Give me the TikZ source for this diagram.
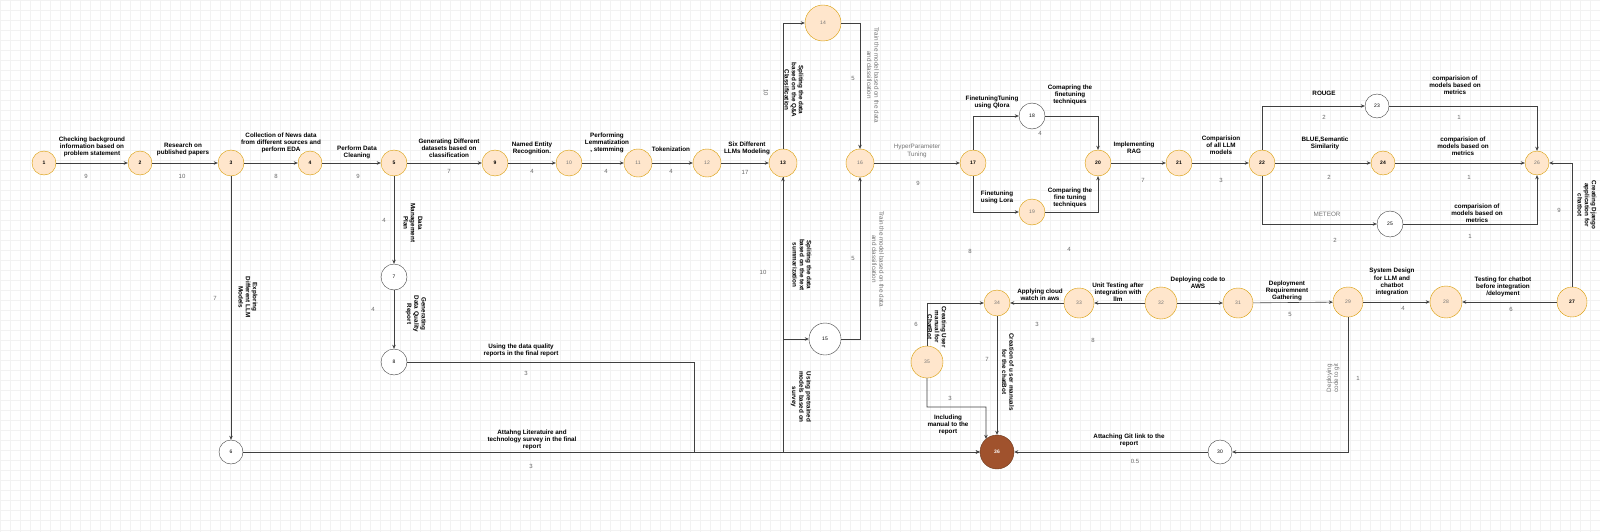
\documentclass[tikz,border=0pt]{standalone}
\usepackage{fontspec}
\setmainfont{Liberation Sans}
\usetikzlibrary{arrows.meta}
\definecolor{taskfill}{HTML}{FFE6CC}
\definecolor{taskline}{HTML}{D79B00}
\definecolor{endfill}{HTML}{A0522D}
\definecolor{endline}{HTML}{6D3A1E}
\begin{document}
\begin{tikzpicture}[x=1pt, y=-1pt,
    task/.style={circle, draw=taskline, fill=taskfill, minimum size=#1, inner sep=0pt, font=\fontsize{5}{6}\selectfont\bfseries},
    blank/.style={circle, draw=black!75, fill=white, minimum size=#1, inner sep=0pt, font=\fontsize{5}{6}\selectfont},
    flow/.style={draw=black!75, line width=0.6pt, -{Stealth[length=4pt,width=3.5pt]}},
    desc/.style={align=center, inner sep=0pt, font=\fontsize{6.3}{7.2}\selectfont\bfseries},
    faint/.style={align=center, inner sep=0pt, text=black!55, font=\fontsize{6.3}{7.2}\selectfont},
    dur/.style={inner sep=0pt, text=black!60, font=\fontsize{6}{7}\selectfont},
    gridline/.style={draw=black!5, line width=0.4pt}]
  \useasboundingbox (0,0) rectangle (1600,532);
  % background grid
  \foreach \gx in {0,10,...,1600} \draw[gridline] (\gx,0) -- (\gx,532);
  \foreach \gy in {0,10,...,530} \draw[gridline] (0,\gy) -- (1600,\gy);

  % activities
  \foreach \n/\x/\y/\d in {1/44/163/24,2/140/163/24,3/231/163/26,4/310/163/24,5/394/163/26,9/495/163/26,
      13/783/163/28,17/973/163/26,20/1098/163/26,21/1179/163/26,22/1262/163/26,24/1383/163/24,27/1572/302/30}
    \node[task=\d pt] (n\n) at (\x,\y) {\n};
  \foreach \n/\x/\y/\d in {10/569/163/26,11/638/163/28,12/707/163/28,14/823/23/36,16/860/163/28,19/1032/212/26,
      26/1537/163/24,28/1446/302/32,29/1348/302/30,31/1238/303/30,32/1161/303/32,33/1079/303/30,34/997/303/26,35/927/362/32}
    \node[task=\d pt, text=black!55, font=\fontsize{5}{6}\selectfont] (n\n) at (\x,\y) {\n};
  \foreach \n/\x/\y/\d in {6/231/452/24,7/394/277/26,8/394/362/26,15/825/339/32,18/1032/116/26,23/1377/106/24,25/1390/224/26,30/1220/452/24}
    \node[blank=\d pt] (n\n) at (\x,\y) {\n};
  \node[circle, draw=endline, fill=endfill, minimum size=34pt, inner sep=0pt, text=white, font=\fontsize{5}{6}\selectfont\bfseries] (n36) at (997,452) {36};

  % bends
  \coordinate (k8) at (694,452);
  \coordinate (k35) at (986,407);

  % connectors
  \foreach \a/\b in {1/2,2/3,3/4,4/5,5/9,9/10,10/11,11/12,12/13,3/6,5/7,7/8,16/17,20/21,21/22,22/24,24/26,
      27/28,29/28,31/29,32/31,32/33,33/34,34/36,30/36,6/36}
    \draw[flow] (n\a) -- (n\b);
  \draw[flow] (n8.east) -| (k8) -- (n36.west);
  \draw[flow] (n6.east) -| (n13.south);
  \draw[flow] (n13.south) |- (n15.west);
  \draw[flow] (n13.north) |- (n14.west);
  \draw[flow] (n14.east) -| (n16.north);
  \draw[flow] (n15.east) -| (n16.south);
  \draw[flow] (n17.north) |- (n18.west);
  \draw[flow] (n17.south) |- (n19.west);
  \draw[flow] (n18.east) -| (n20.north);
  \draw[flow] (n19.east) -| (n20.south);
  \draw[flow] (n22.north) |- (n23.west);
  \draw[flow] (n22.south) |- (n25.west);
  \draw[flow] (n23.east) -| (n26.north);
  \draw[flow] (n25.east) -| (n26.south);
  \draw[flow] (n27.north) |- (n26.east);
  \draw[flow] (n29.south) |- (n30.east);
  \draw[flow] (n35.north) |- (n34.west);
  \draw[flow] (n35.south) |- (k35) -- (n36.130);

  % activity texts
  \node[desc] (t12) at (92,147) {Checking background\\information based on\\problem statement};
  \node[desc] (t23) at (183,149) {Research on\\published papers};
  \node[desc] (t34) at (281,143) {Collection of News data\\from different sources and\\perform EDA};
  \node[desc] (t45) at (357,152) {Perform Data\\Cleaning};
  \node[desc] (t59) at (449,148) {Generating Different\\datasets based on\\classification};
  \node[desc] (t910) at (532,148) {Named Entity\\Recognition.};
  \node[desc] (t1011) at (607,143) {Performing\\Lemmatization\\, stemming};
  \node[desc] (t1112) at (671,149) {Tokenization};
  \node[desc] (t1213) at (747,148) {Six Different\\LLMs Modeling};
  \node[desc, rotate=-90] (t1314) at (794,90) {Spliting the data\\based on the Q\&A\\Classification};
  \node[faint, rotate=-90] (t1416) at (873,75) {Train the model based on the data\\and classification};
  \node[desc, rotate=-90] (t1315) at (802,265) {Spliting the data\\based on the text\\summarization};
  \node[desc, rotate=-90] (t613) at (801,397) {Using pretrained\\models based on\\survey};
  \node[faint, rotate=-90] (t1516) at (878,259) {Train the model based on the data\\and classification};
  \node[faint] (t1617) at (917,151) {HyperParameter\\Tuning};
  \node[desc] (t1718) at (992,102) {FinetuningTuning\\using Qlora};
  \node[desc] (t1820) at (1070,95) {Comapring the\\finetuning\\techniques};
  \node[desc] (t1719) at (997,197) {Finetuning\\using Lora};
  \node[desc] (t1920) at (1070,198) {Comparing the\\fine tuning\\techniques};
  \node[desc] (t2021) at (1134,148) {Implementing\\RAG};
  \node[desc] (t2122) at (1221,145) {Comparision\\of all LLM\\models};
  \node[desc] (t2223) at (1324,93) {ROUGE};
  \node[desc] (t2326) at (1455,85) {comparision of\\models based on\\metrics};
  \node[desc] (t2224) at (1325,143) {BLUE,Semantic\\Similarity};
  \node[desc] (t2426) at (1463,146) {comparision of\\models based on\\metrics};
  \node[faint] (t2225) at (1327,214) {METEOR};
  \node[desc] (t2526) at (1477,213) {comparision of\\models based on\\metrics};
  \node[desc, rotate=-90] (t2726) at (1587,205) {Creating Django\\application for\\chatbot};
  \node[desc] (t2728) at (1503,287) {Testing for chatbot\\before integration\\/deloyment};
  \node[desc] (t2928) at (1392,282) {System Design\\for LLM and\\chatbot\\integration};
  \node[desc] (t3129) at (1287,291) {Deployment\\Requiremnent\\Gathering};
  \node[desc] (t3231) at (1198,283) {Deploying code to\\AWS};
  \node[desc] (t3233) at (1118,292) {Unit Testing after\\integration with\\llm};
  \node[desc] (t3334) at (1040,295) {Applying cloud\\watch in aws};
  \node[desc, rotate=-90] (t3534) at (937,327) {Creating User\\manual for\\ChatBot};
  \node[desc] (t3536) at (948,425) {Including\\manual to the\\report};
  \node[desc, rotate=-90] (t3436) at (1008,372) {Creation of u ser manuals\\for the chatBot};
  \node[desc] (t3036) at (1129,440) {Attaching Git link to the\\report};
  \node[faint, rotate=90] (t2930) at (1333,378) {Deploying\\code to git};
  \node[desc, rotate=-90] (t57) at (413,223) {Data\\Management\\Plan};
  \node[desc, rotate=-90] (t78) at (416,314) {Generating\\Data Quality\\Report};
  \node[desc, rotate=-90] (t36) at (248,297) {Exploring\\Different LLM\\Models};
  \node[desc] (t836) at (521,350) {Using the data quality\\reports in the final report};
  \node[desc] (t636) at (532,440) {Attahng Literatuire and\\technology survey in the final\\report};

  % durations
  \foreach \w/\x/\y/\v in {12/86/176/9,23/182/176/10,34/276/176/8,45/358/176/9,59/449/171/7,910/532/171/4,
      1011/606/171/4,1112/671/171/4,1213/745/172/17,1416/853/78/5,1315/763/272/10,1516/853/258/5,
      1617/918/183/9,1718/1040/133/4,1719/970/251/8,1920/1069/249/4,2021/1143/180/7,2122/1221/180/3,
      2223/1324/117/2,2326/1459/117/1,2224/1329/177/2,2426/1469/177/1,2225/1335/240/2,2526/1470/236/1,
      2726/1559/210/9,2728/1511/309/6,2928/1403/308/4,3129/1290/314/5,3233/1093/340/8,3334/1037/324/3,
      3534/916/324/6,3536/950/398/3,3436/987/359/7,3036/1135/461/0.5,2930/1358/378/1,57/384/220/4,
      78/373/309/4,36/215/298/7,836/526/373/3,636/531/466/3}
    \node[dur] (w\w) at (\x,\y) {\v};
  \node[dur, rotate=-90] (w1314) at (766,93) {10};
\end{tikzpicture}
\end{document}
